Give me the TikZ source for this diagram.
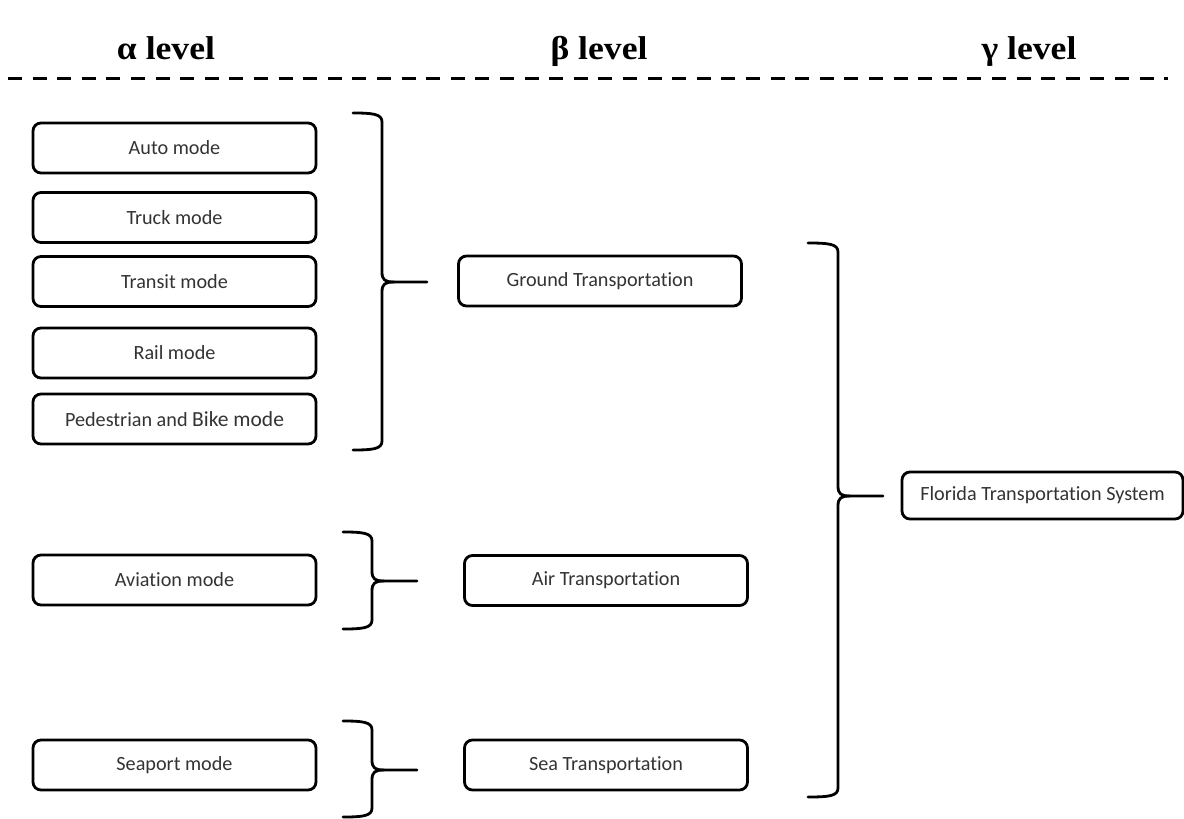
\documentclass[tikz,border=0pt]{standalone}
\usepackage{fontspec}
\setmainfont{Carlito}[Ligatures=NoCommon]
\newfontfamily\headfont{Liberation Serif}
\begin{document}
\begin{tikzpicture}[x=1pt,y=-1pt,
  modebox/.style={draw=black, line width=2.8pt, rounded corners=8pt,
    minimum height=50pt, text=black!80, font=\fontsize{20.2}{23}\selectfont,
    inner sep=0pt},
  alphabox/.style={modebox, minimum width=283pt},
  betabox/.style={modebox, minimum width=283pt},
  levelhead/.style={font=\headfont\bfseries\fontsize{33}{38}\selectfont, inner sep=0pt, anchor=base},
  bracestyle/.style={line width=2.8pt, line cap=round, line join=round}]
\useasboundingbox (0,0) rectangle (1184,819);

% column headings and separator
\node[levelhead] (ha) at (166,59) {\scalebox{1.08}[1]{α level}};
\node[levelhead] (hb) at (599,59) {\scalebox{1.08}[1]{β level}};
\node[levelhead] (hc) at (1029,59) {\scalebox{1.08}[1]{γ level}};
\coordinate (sepL) at (8,78);
\coordinate (sepR) at (1168,78);
\draw[line width=3pt, dash pattern=on 14pt off 10.6pt] (sepL) -- (sepR);

% alpha level: modes
\node[alphabox] (auto) at (174.5,148) {Auto mode};
\node[alphabox] (truck) at (174.5,217.5) {Truck mode};
\node[alphabox] (transit) at (174.5,281.5) {Transit mode};
\node[alphabox] (rail) at (174.5,353) {Rail mode};
\node[alphabox] (ped) at (174.5,419) {Pedestrian and {\fontsize{21.5}{24}\selectfont Bike mode}};
\node[alphabox] (avi) at (174.5,580) {Aviation mode};
\node[alphabox] (seaport) at (174.5,765) {Seaport mode};

% beta level: transportation groups
\node[betabox] (ground) at (600,281) {Ground Transportation};
\node[betabox] (air) at (606,580.5) {Air Transportation};
\node[betabox] (sea) at (606,765) {Sea Transportation};

% gamma level
\node[modebox, minimum width=281pt, minimum height=47pt] (fts) at (1042.5,495.5) {Florida Transportation System};

% right curly brace: #1 open-end x, #2 spine x, #3 top y, #4 middle y, #5 bottom y, #6 name of tip coordinate
\newcommand\groupbrace[6]{%
  \coordinate (#6) at (#2+45,#4);
  \draw[bracestyle] (#1,#3) .. controls (#2-9,#3) and (#2,#3+1) .. (#2,#3+9)
     -- (#2,#4-10) .. controls (#2,#4-2) and (#2+3,#4) .. (#2+12,#4) -- (#6);
  \draw[bracestyle] (#1,#5) .. controls (#2-9,#5) and (#2,#5-1) .. (#2,#5-9)
     -- (#2,#4+10) .. controls (#2,#4+2) and (#2+3,#4) .. (#2+12,#4);
}
\groupbrace{353}{382}{113}{282}{450}{tipground}
\groupbrace{343}{372}{532}{581}{629}{tipair}
\groupbrace{343}{372}{721}{770}{817}{tipsea}
\groupbrace{808}{838}{243}{496}{797}{tipfts}
\end{tikzpicture}
\end{document}
